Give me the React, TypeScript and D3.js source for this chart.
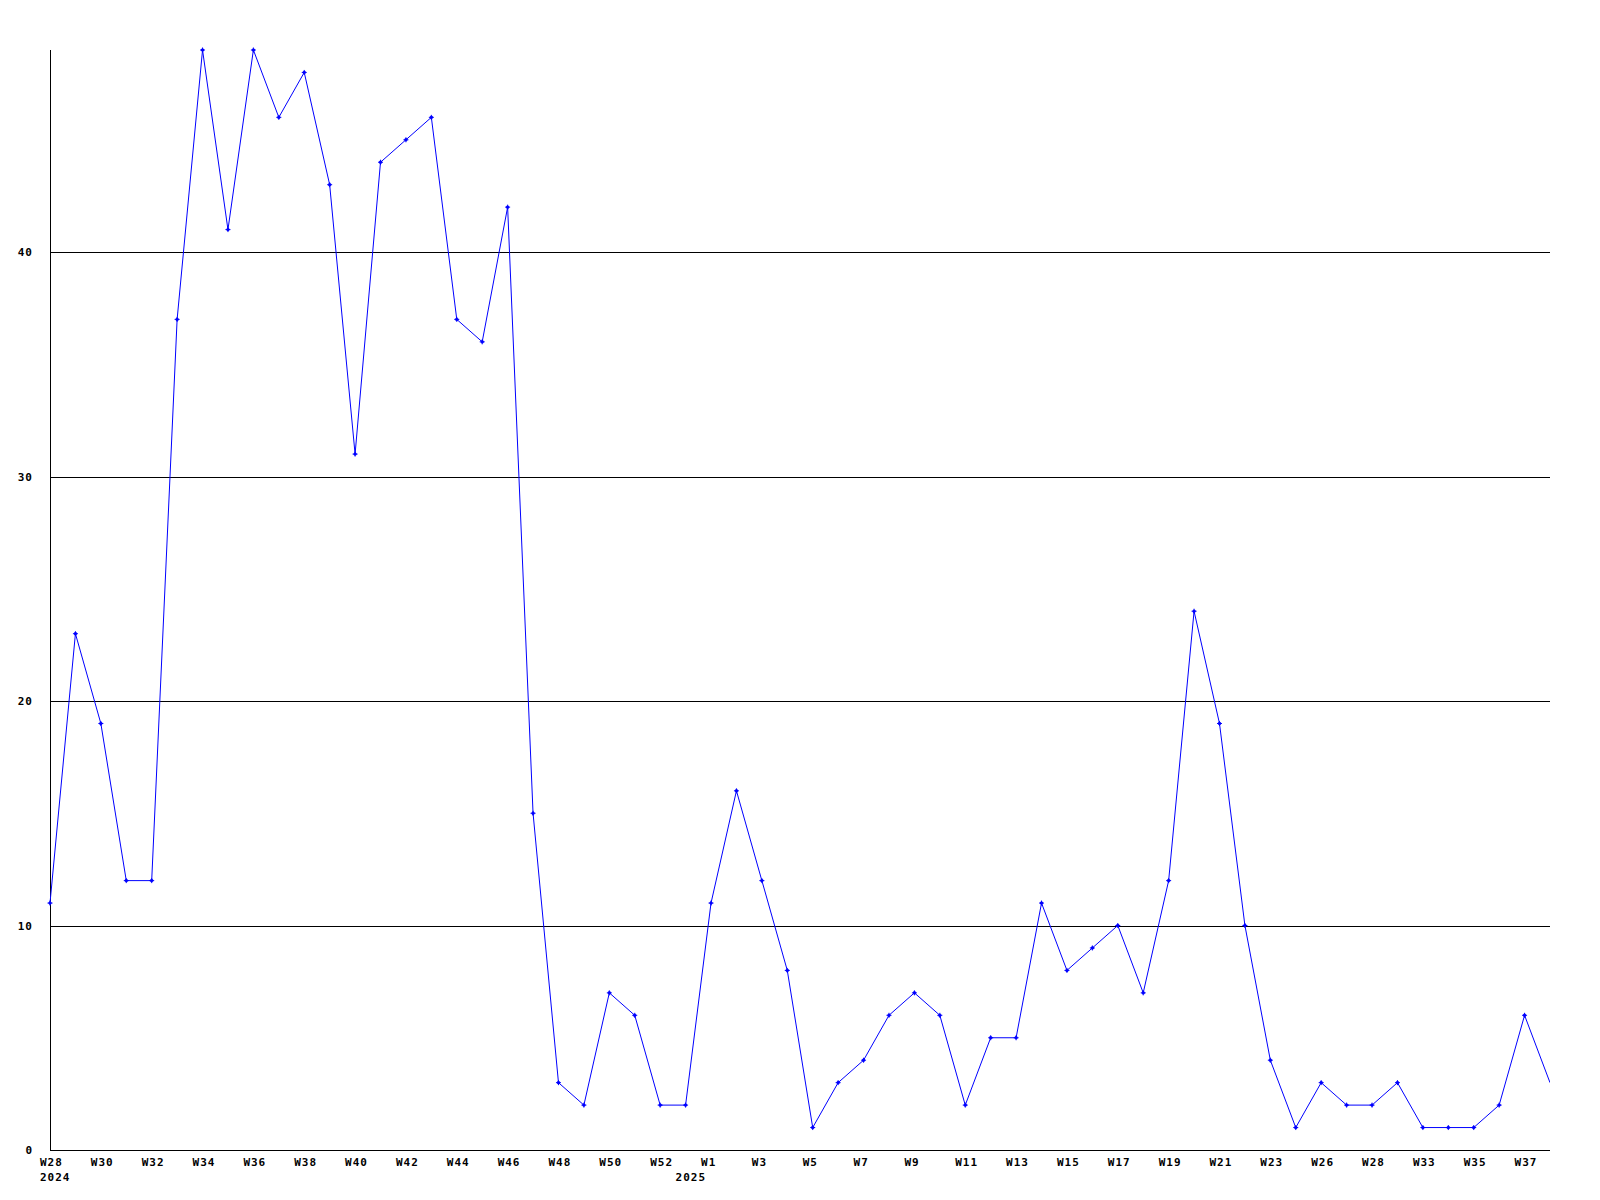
import React from "react";
import * as d3 from "d3";

// weekly counts, W28 2024 .. W38 2025 (some weeks missing in the source)
const weeks = [
  "W28", "W29", "W30", "W31", "W32", "W33", "W34", "W35", "W36", "W37",
  "W38", "W39", "W40", "W41", "W42", "W43", "W44", "W45", "W46", "W47",
  "W48", "W49", "W50", "W51", "W52", "W0", "W1", "W2", "W3", "W4",
  "W5", "W6", "W7", "W8", "W9", "W10", "W11", "W12", "W13", "W14",
  "W15", "W16", "W17", "W18", "W19", "W20", "W21", "W22", "W23", "W24",
  "W26", "W27", "W28", "W32", "W33", "W34", "W35", "W36", "W37", "W38",
];
const values = [
  11, 23, 19, 12, 12, 37, 49, 41, 49, 46,
  48, 43, 31, 44, 45, 46, 37, 36, 42, 15,
  3, 2, 7, 6, 2, 2, 11, 16, 12, 8,
  1, 3, 4, 6, 7, 6, 2, 5, 5, 11,
  8, 9, 10, 7, 12, 24, 19, 10, 4, 1,
  3, 2, 2, 3, 1, 1, 1, 2, 6, 3,
];
// year marker: index of the first point of each year
const years = [
  { index: 0, label: "2024" },
  { index: 25, label: "2025" },
];
const yTicks = [0, 10, 20, 30, 40];

const W = 1600;
const H = 1200;
const left = 50;
const right = 1550;
const top = 50;
const bottom = 1150;
const font = "'DejaVu Sans Mono', monospace";

export default function App() {
  const x = d3.scaleLinear().domain([0, values.length - 1]).range([left, right]);
  const y = d3.scaleLinear().domain([0, 49]).range([bottom, top]);

  const line = d3
    .line<number>()
    .x((_, i) => x(i))
    .y((d) => y(d));

  const marker = "M-2.5,0H2.5M0,-2.5V2.5M-1,-1H1V1H-1Z";

  const textProps = {
    fontFamily: font,
    fontWeight: "bold" as const,
    fontSize: 11,
    letterSpacing: 1,
    fill: "#000",
  };

  return (
    <svg
      width={W}
      height={H}
      style={{ position: "absolute", left: 0, top: 0, background: "#fff" }}
    >
      <defs>
        <clipPath id="plot">
          <rect x={left - 4} y={top - 5} width={right - left + 4} height={bottom - top + 5} />
        </clipPath>
      </defs>
      {yTicks
        .filter((t) => t > 0)
        .map((t) => (
          <line
            key={t}
            x1={left}
            x2={right}
            y1={Math.round(y(t)) + 0.5}
            y2={Math.round(y(t)) + 0.5}
            stroke="#000"
            strokeWidth={1}
            shapeRendering="crispEdges"
          />
        ))}
      <line
        x1={left + 0.5}
        x2={left + 0.5}
        y1={top}
        y2={bottom}
        stroke="#000"
        shapeRendering="crispEdges"
      />
      <line
        x1={left}
        x2={right}
        y1={bottom + 0.5}
        y2={bottom + 0.5}
        stroke="#000"
        shapeRendering="crispEdges"
      />
      {yTicks.map((t) => (
        <text key={t} x={33} y={Math.round(y(t)) + 4} textAnchor="end" {...textProps}>
          {t}
        </text>
      ))}
      {weeks.map((w, i) =>
        i % 2 === 0 ? (
          <text key={i} x={x(i) - 10} y={1166} {...textProps}>
            {w}
          </text>
        ) : null
      )}
      {years.map((yr) => (
        <text key={yr.label} x={x(yr.index) - 10} y={1181} {...textProps}>
          {yr.label}
        </text>
      ))}
      <g clipPath="url(#plot)">
        <path d={line(values) ?? ""} fill="none" stroke="#0000ff" strokeWidth={1} />
        {values.slice(0, -1).map((v, i) => (
          <path
            key={i}
            d={marker}
            transform={`translate(${x(i)},${y(v)})`}
            stroke="#0000ff"
            strokeWidth={1}
            fill="#0000ff"
          />
        ))}
      </g>
    </svg>
  );
}
